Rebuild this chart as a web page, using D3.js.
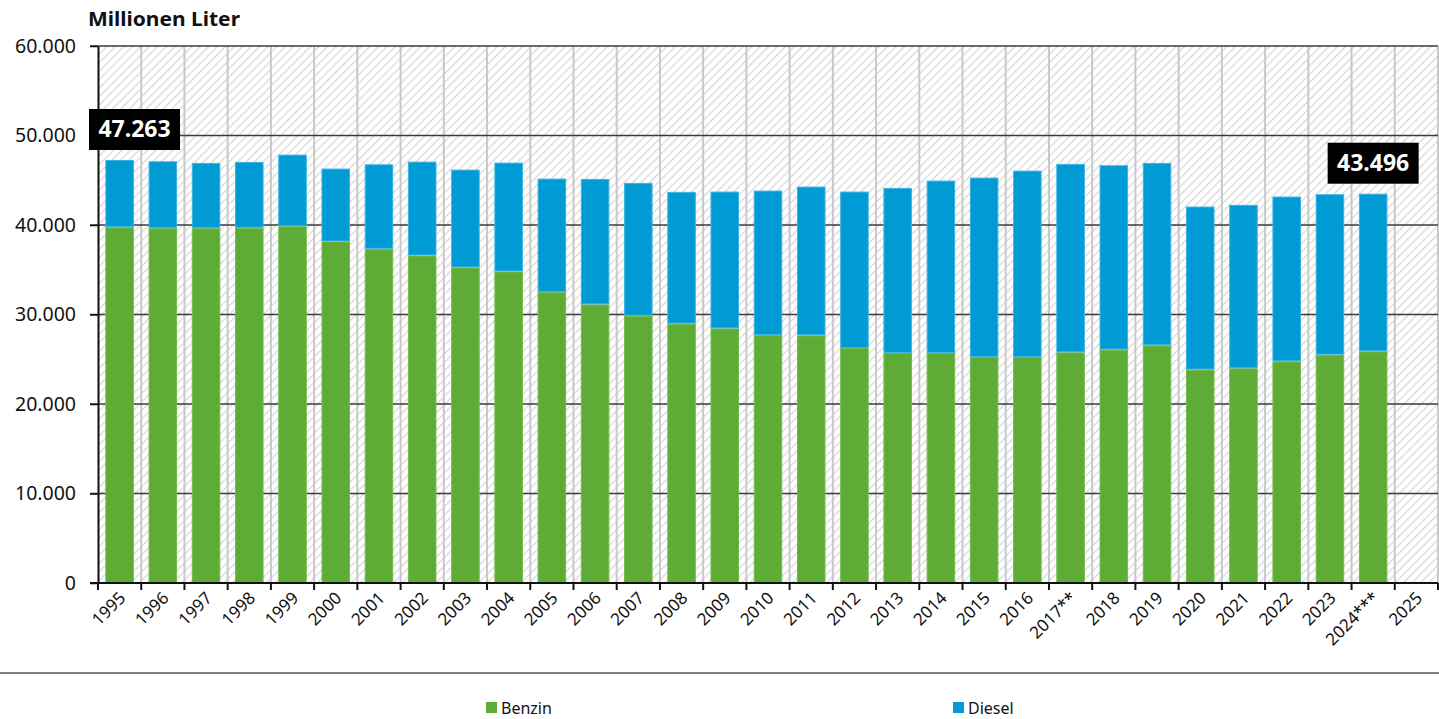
<!DOCTYPE html>
<html>
<head>
<meta charset="utf-8">
<script src="https://cdn.jsdelivr.net/npm/d3@7"></script>
<style>
  body { margin: 0; background: #fff; }
  svg text { font-family: "Noto Sans", "Open Sans", sans-serif; }
</style>
</head>
<body>
<div id="chart"></div>
<script>
// Absatz Benzin / Diesel, Millionen Liter
var years = ["1995","1996","1997","1998","1999","2000","2001","2002","2003","2004",
  "2005","2006","2007","2008","2009","2010","2011","2012","2013","2014",
  "2015","2016","2017**","2018","2019","2020","2021","2022","2023","2024***","2025"];

var benzin = [39755, 39643, 39640, 39685, 39865, 38157, 37342, 36595, 35256, 34810,
  32502, 31128, 29864, 28972, 28450, 27705, 27670, 26255, 25695, 25695,
  25250, 25250, 25773, 26071, 26554, 23840, 23988, 24768, 25515, 25884, null];

var diesel = [7508, 7477, 7297, 7365, 7999, 8145, 9439, 10487, 10934, 12161,
  12684, 14021, 14840, 14728, 15285, 16142, 16623, 17480, 18449, 19267,
  20047, 20828, 21051, 20605, 20383, 18222, 18260, 18409, 17923, 17612, null];

var yTicks = [0, 10000, 20000, 30000, 40000, 50000, 60000];

var callouts = [
  {year: "1995", text: "47.263"},
  {year: "2024***", text: "43.496"}
];

var seriesNames = ["Benzin", "Diesel"];
var colors = ["#5eac36", "#009bd4"];
var strokes = ["#72bb4c", "#3cb3e2"];

var width = 1439, height = 719;
var margin = {top: 46, right: 1, bottom: 136, left: 98};
var plotW = width - margin.left - margin.right,
    plotH = height - margin.top - margin.bottom;

var fmt = d3.formatLocale({decimal: ",", thousands: ".", grouping: [3], currency: ["", "€"]}).format(",");

var svg = d3.select("#chart").append("svg")
  .attr("width", width)
  .attr("height", height);

// hatch pattern for the plot background
var pat = svg.append("defs").append("pattern")
  .attr("id", "hatch")
  .attr("patternUnits", "userSpaceOnUse")
  .attr("width", 6)
  .attr("height", 6)
  .attr("patternTransform", "rotate(45)");
pat.append("rect").attr("width", 6).attr("height", 6).attr("fill", "#fff");
pat.append("line")
  .attr("x1", 0).attr("y1", 0).attr("x2", 0).attr("y2", 6)
  .attr("stroke", "#d6d6d6").attr("stroke-width", 2.4);

var g = svg.append("g")
  .attr("transform", "translate(" + margin.left + "," + margin.top + ")");

var x = d3.scaleBand().domain(years).range([0, plotW]).paddingInner(0.34).paddingOuter(0.17);
var y = d3.scaleLinear().domain([0, 60000]).range([plotH, 0]);

g.append("rect")
  .attr("width", plotW)
  .attr("height", plotH)
  .attr("fill", "url(#hatch)");

// vertical grid at band boundaries
var step = x.step();
var bounds = d3.range(years.length + 1).map(function(i) { return i * step; });
g.append("g").selectAll("line")
  .data(bounds.slice(1))
  .enter().append("line")
  .attr("x1", function(d) { return d; })
  .attr("x2", function(d) { return d; })
  .attr("y1", 0).attr("y2", plotH)
  .attr("stroke", "#c8c8c8")
  .attr("stroke-width", 2);

// horizontal grid
g.append("g").selectAll("line")
  .data(yTicks.slice(1))
  .enter().append("line")
  .attr("x1", -8).attr("x2", plotW)
  .attr("y1", function(d) { return y(d); })
  .attr("y2", function(d) { return y(d); })
  .attr("stroke", "#3a3a3a")
  .attr("stroke-width", 1.5);

// stacked bars
var rows = years.map(function(yr, i) { return {year: yr, Benzin: benzin[i], Diesel: diesel[i]}; })
  .filter(function(d) { return d.Benzin != null; });
var stack = d3.stack().keys(seriesNames)(rows);

g.append("g").selectAll("g")
  .data(stack)
  .enter().append("g")
  .attr("fill", function(d, i) { return colors[i]; })
  .attr("stroke", function(d, i) { return strokes[i]; })
  .attr("stroke-width", 1)
  .selectAll("rect")
  .data(function(d) { return d; })
  .enter().append("rect")
  .attr("x", function(d) { return x(d.data.year) + 0.5; })
  .attr("width", x.bandwidth() - 1)
  .attr("y", function(d) { return y(d[1]) + 0.5; })
  .attr("height", function(d) { return y(d[0]) - y(d[1]) - 1; });

// y axis
var yAxis = g.append("g")
  .call(d3.axisLeft(y).tickValues(yTicks).tickFormat(fmt).tickSize(8).tickSizeOuter(0));
yAxis.select(".domain").attr("stroke", "#111").attr("stroke-width", 2);
yAxis.selectAll(".tick line").attr("stroke", "#111").attr("stroke-width", 1.5);
yAxis.selectAll("text")
  .attr("x", -22)
  .attr("font-size", 19.5)
  .attr("fill", "#111");

// x axis: baseline, ticks at band boundaries, labels at band centres
g.append("line")
  .attr("x1", -8).attr("x2", plotW)
  .attr("y1", plotH).attr("y2", plotH)
  .attr("stroke", "#111").attr("stroke-width", 2);
g.append("g").selectAll("line")
  .data(bounds)
  .enter().append("line")
  .attr("x1", function(d) { return d; })
  .attr("x2", function(d) { return d; })
  .attr("y1", plotH).attr("y2", plotH + 7)
  .attr("stroke", "#111").attr("stroke-width", 2);

g.append("g").selectAll("text")
  .data(years)
  .enter().append("text")
  .attr("transform", function(d) {
    return "translate(" + (x(d) + x.bandwidth() / 2 + 7) + "," + (plotH + 16) + ") rotate(-45)";
  })
  .attr("text-anchor", "end")
  .attr("font-size", 17)
  .attr("fill", "#111")
  .text(function(d) { return d; });

// y title
svg.append("text")
  .attr("x", 88)
  .attr("y", 26)
  .attr("font-size", 20)
  .attr("font-weight", "bold")
  .attr("fill", "#111")
  .attr("textLength", 152)
  .attr("lengthAdjust", "spacingAndGlyphs")
  .text("Millionen Liter");

// value callouts
var boxW = 91, boxH = 41;
callouts.forEach(function(c) {
  var i = years.indexOf(c.year);
  var total = benzin[i] + diesel[i];
  var cx = Math.max(x(c.year) + x.bandwidth() / 2, -9 + boxW / 2);
  var top = y(total) - 10 - boxH;
  var lab = g.append("g").attr("transform", "translate(" + (cx - boxW / 2) + "," + top + ")");
  lab.append("rect").attr("width", boxW).attr("height", boxH).attr("fill", "#000");
  lab.append("text")
    .attr("x", boxW / 2).attr("y", boxH / 2 + 8)
    .attr("text-anchor", "middle")
    .attr("font-size", 23)
    .attr("font-weight", "bold")
    .attr("fill", "#fff")
    .text(c.text);
});

// separator
svg.append("line")
  .attr("x1", 0).attr("x2", width)
  .attr("y1", 673).attr("y2", 673)
  .attr("stroke", "#555").attr("stroke-width", 1.5);

// legend
var legendX = [486, 953];
var legend = svg.append("g").selectAll("g")
  .data(seriesNames)
  .enter().append("g")
  .attr("transform", function(d, i) { return "translate(" + legendX[i] + ",702)"; });
legend.append("rect")
  .attr("width", 11).attr("height", 11)
  .attr("fill", function(d, i) { return colors[i]; });
legend.append("text")
  .attr("x", 15).attr("y", 12)
  .attr("font-size", 16)
  .attr("fill", "#111")
  .text(function(d) { return d; });
</script>
</body>
</html>
